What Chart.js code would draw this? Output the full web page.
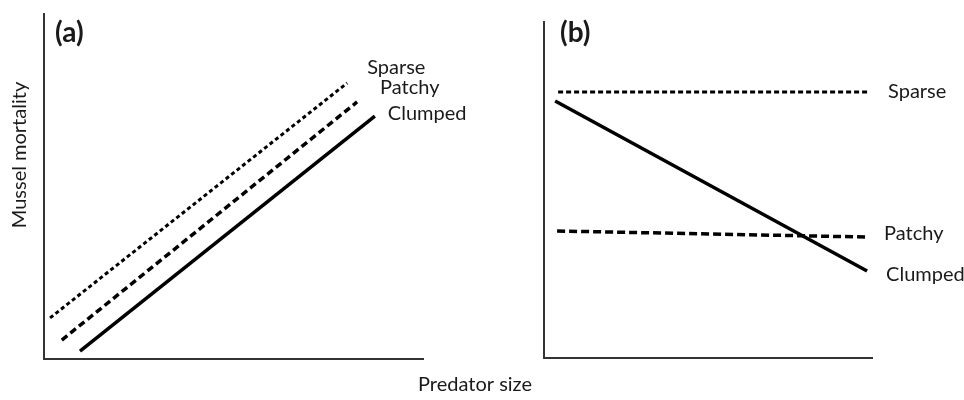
<!DOCTYPE html>
<html lang="en">
<head>
  <meta charset="utf-8">
  <title>Mussel mortality vs predator size</title>
  <style>
    body { margin: 0; background: white; }
    #wrap { position: relative; width: 964px; height: 400px; }
    #wrap canvas { position: absolute; left: 0; top: 0; }
  </style>
</head>
<body>
  <div id="wrap">
    <canvas id="chartA" width="964" height="400"></canvas>
    <canvas id="chartB" width="964" height="400"></canvas>
  </div>

  <script src="https://cdn.jsdelivr.net/npm/chart.js@4.4.0/dist/chart.umd.min.js"></script>
  <script>
    // conceptual values (0-100 on both axes)
    var seriesNames = ['Sparse', 'Patchy', 'Clumped'];

    // panel (a): all three rise with predator size
    var aSparseX = [1.6, 80.0];
    var aSparseY = [11.9, 80.0];
    var aPatchyX = [4.7, 82.6];
    var aPatchyY = [5.5, 74.5];
    var aClumpedX = [9.5, 87.3];
    var aClumpedY = [2.3, 70.4];

    // panel (b): sparse flat, patchy flat, clumped falls
    var bSparseX = [4.3, 98.8];
    var bSparseY = [79.2, 79.2];
    var bPatchyX = [4.0, 98.5];
    var bPatchyY = [37.8, 36.0];
    var bClumpedX = [3.4, 98.5];
    var bClumpedY = [76.5, 25.9];

    var FONT = 'Lato, "Open Sans", sans-serif';

    function pts(xs, ys) {
      return xs.map(function (x, i) { return { x: x, y: ys[i] }; });
    }

    function lineSet(label, data, dash, width, offset) {
      return {
        label: label,
        data: data,
        borderColor: '#000',
        borderWidth: width,
        borderDash: dash,
        pointRadius: 0,
        tension: 0,
        fill: false,
        labelOffset: offset
      };
    }

    // writes the series name next to the end of each line, plus the panel texts
    var annotate = {
      id: 'annotate',
      afterDatasetsDraw: function (chart, args, opts) {
        var ctx = chart.ctx;
        ctx.save();
        ctx.fillStyle = '#1a1a1a';
        ctx.textBaseline = 'middle';
        ctx.textAlign = 'left';
        ctx.font = '20px ' + FONT;
        chart.data.datasets.forEach(function (ds, i) {
          var meta = chart.getDatasetMeta(i);
          var last = meta.data[meta.data.length - 1];
          ctx.fillText(ds.label, last.x + ds.labelOffset[0], last.y + ds.labelOffset[1]);
        });
        ctx.font = 'bold 28px ' + FONT;
        ctx.fillText(opts.panel, opts.panelPos[0], opts.panelPos[1]);
        if (opts.yTitle) {
          ctx.font = '20px ' + FONT;
          ctx.textAlign = 'center';
          ctx.translate(opts.yTitlePos[0], opts.yTitlePos[1]);
          ctx.rotate(-Math.PI / 2);
          ctx.fillText(opts.yTitle, 0, 0);
          ctx.setTransform(1, 0, 0, 1, 0, 0);
          ctx.fillText(opts.xTitle, opts.xTitlePos[0], opts.xTitlePos[1]);
        }
        ctx.restore();
      }
    };

    function axes() {
      var ax = {
        type: 'linear', min: 0, max: 100,
        ticks: { display: false },
        grid: { display: false, drawTicks: false, tickLength: 0 },
        border: { display: true, color: '#333', width: 2 }
      };
      return { x: Object.assign({}, ax), y: Object.assign({}, ax) };
    }

    new Chart(document.getElementById('chartA'), {
      type: 'line',
      data: {
        datasets: [
          lineSet(seriesNames[0], pts(aSparseX, aSparseY), [4, 3], 3, [20, -15]),
          lineSet(seriesNames[1], pts(aPatchyX, aPatchyY), [7, 4], 3.5, [23, -14]),
          lineSet(seriesNames[2], pts(aClumpedX, aClumpedY), [], 3.5, [13, -3])
        ]
      },
      options: {
        responsive: false,
        animation: false,
        layout: { padding: { left: 44, right: 541, top: 14, bottom: 41 } },
        scales: axes(),
        plugins: {
          legend: { display: false },
          tooltip: { enabled: false },
          annotate: {
            panel: '(a)', panelPos: [55, 33],
            yTitle: 'Mussel mortality', yTitlePos: [20, 155],
            xTitle: 'Predator size', xTitlePos: [475, 385]
          }
        }
      },
      plugins: [annotate]
    });

    new Chart(document.getElementById('chartB'), {
      type: 'line',
      data: {
        datasets: [
          lineSet(seriesNames[0], pts(bSparseX, bSparseY), [5, 3], 3, [20, 0]),
          lineSet(seriesNames[1], pts(bPatchyX, bPatchyY), [8, 4], 3.5, [17, -3]),
          lineSet(seriesNames[2], pts(bClumpedX, bClumpedY), [], 3.5, [19, 4])
        ]
      },
      options: {
        responsive: false,
        animation: false,
        layout: { padding: { left: 544, right: 92, top: 22, bottom: 42 } },
        scales: axes(),
        plugins: {
          legend: { display: false },
          tooltip: { enabled: false },
          annotate: { panel: '(b)', panelPos: [560, 33] }
        }
      },
      plugins: [annotate]
    });
  </script>
</body>
</html>
